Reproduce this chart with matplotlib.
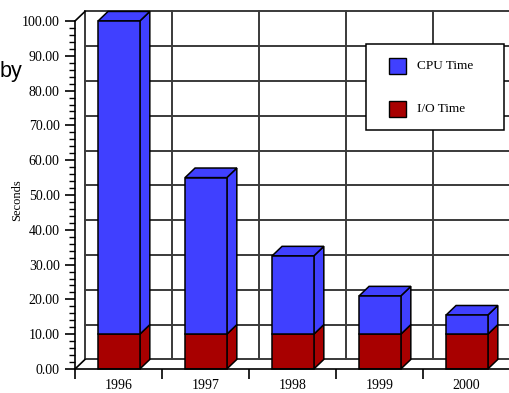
import matplotlib.pyplot as plt
from matplotlib.patches import Rectangle, Polygon
from matplotlib.ticker import MultipleLocator, FormatStrFormatter

# === Daten ===
jahre = ["1996", "1997", "1998", "1999", "2000"]
io_zeit = [10.0, 10.0, 10.0, 10.0, 10.0]
cpu_zeit = [90.0, 45.0, 22.5, 11.0, 5.5]

farbe_cpu = "#4040FF"
farbe_io = "#A80000"
serif = "Liberation Serif"

# Tiefenversatz fuer den 3D-Effekt (in Dateneinheiten)
DX = 0.115
DY = 2.75
bar_links = 0.265
bar_breite = 0.48

fig = plt.figure(figsize=(5.10, 3.93), dpi=100)
W, H = 510, 393
ax = fig.add_axes([75 / W, 24 / H, 435 / W, 348 / H])
ax.set_xlim(0, len(jahre))
ax.set_ylim(0, 100)

# === Rueckwand mit Gitter ===
grid_kw = dict(color="#3a3a3a", lw=1.4, clip_on=False, zorder=1)
for v in range(0, 101, 10):
    ax.plot([DX, len(jahre)], [v + DY, v + DY], **grid_kw)
for i in range(len(jahre)):
    ax.plot([i + DX, i + DX], [DY, 100 + DY], **grid_kw)
ax.plot([0, DX], [0, DY], color="black", lw=1.2, clip_on=False, zorder=1)
ax.plot([0, DX], [100, 100 + DY], color="black", lw=1.2, clip_on=False, zorder=1)

# === Balken (gestapelt, pseudo-3D) ===
def balken(x0, unten, hoehe, farbe, deckel):
    x1 = x0 + bar_breite
    oben = unten + hoehe
    kw = dict(facecolor=farbe, edgecolor="black", lw=1.1, zorder=3, clip_on=False)
    ax.add_patch(Polygon([(x1, unten), (x1 + DX, unten + DY),
                          (x1 + DX, oben + DY), (x1, oben)], closed=True, **kw))
    if deckel:
        ax.add_patch(Polygon([(x0, oben), (x0 + DX, oben + DY),
                              (x1 + DX, oben + DY), (x1, oben)], closed=True, **kw))
    ax.add_patch(Rectangle((x0, unten), bar_breite, hoehe, **kw))

for i in range(len(jahre)):
    x0 = i + bar_links
    balken(x0, 0, io_zeit[i], farbe_io, False)
    balken(x0, io_zeit[i], cpu_zeit[i], farbe_cpu, True)

# === Achsen ===
for s in ["top", "right"]:
    ax.spines[s].set_visible(False)
for s in ["left", "bottom"]:
    ax.spines[s].set_color("black")
    ax.spines[s].set_linewidth(1.2)
    ax.spines[s].set_zorder(4)

ax.yaxis.set_major_locator(MultipleLocator(10))
ax.yaxis.set_minor_locator(MultipleLocator(2))
ax.yaxis.set_major_formatter(FormatStrFormatter("%.2f"))
ax.tick_params(axis="y", which="major", length=7, width=1.2, pad=4,
               direction="out", labelsize=10)
ax.tick_params(axis="y", which="minor", length=4, width=1.0, direction="out")

ax.set_xticks(range(len(jahre) + 1))
ax.set_xticklabels([])
ax.set_xticks([i + 0.5 for i in range(len(jahre))], minor=True)
ax.set_xticklabels(jahre, minor=True)
ax.tick_params(axis="x", which="major", length=7, width=1.2, direction="out")
ax.tick_params(axis="x", which="minor", length=0, pad=7, labelsize=10)

for lab in ax.get_yticklabels() + ax.get_xticklabels(minor=True):
    lab.set_fontfamily(serif)

fig.text(17 / W, 1 - 200 / H, "Seconds", rotation=90, ha="center", va="center",
         fontsize=9, family=serif)
fig.text(0 / W, 1 - 77 / H, "by", ha="left", va="baseline", fontsize=15.5,
         family="Liberation Sans")

# === Legende ===
def px(x, y):
    return (x / W, 1 - y / H)

fig.add_artist(Rectangle(px(366, 130), 138 / W, 86 / H, transform=fig.transFigure,
                         facecolor="white", edgecolor="black", lw=1.1, zorder=5))
for y_mitte, farbe, text in [(66, farbe_cpu, "CPU Time"), (109, farbe_io, "I/O Time")]:
    fig.add_artist(Rectangle(px(389, y_mitte + 8), 17 / W, 16 / H,
                             transform=fig.transFigure, facecolor=farbe,
                             edgecolor="black", lw=1.0, zorder=6))
    fig.text(417 / W, 1 - y_mitte / H, text, ha="left", va="center",
             fontsize=9.5, family=serif, zorder=6)

fig.savefig("out.png", dpi=100)
